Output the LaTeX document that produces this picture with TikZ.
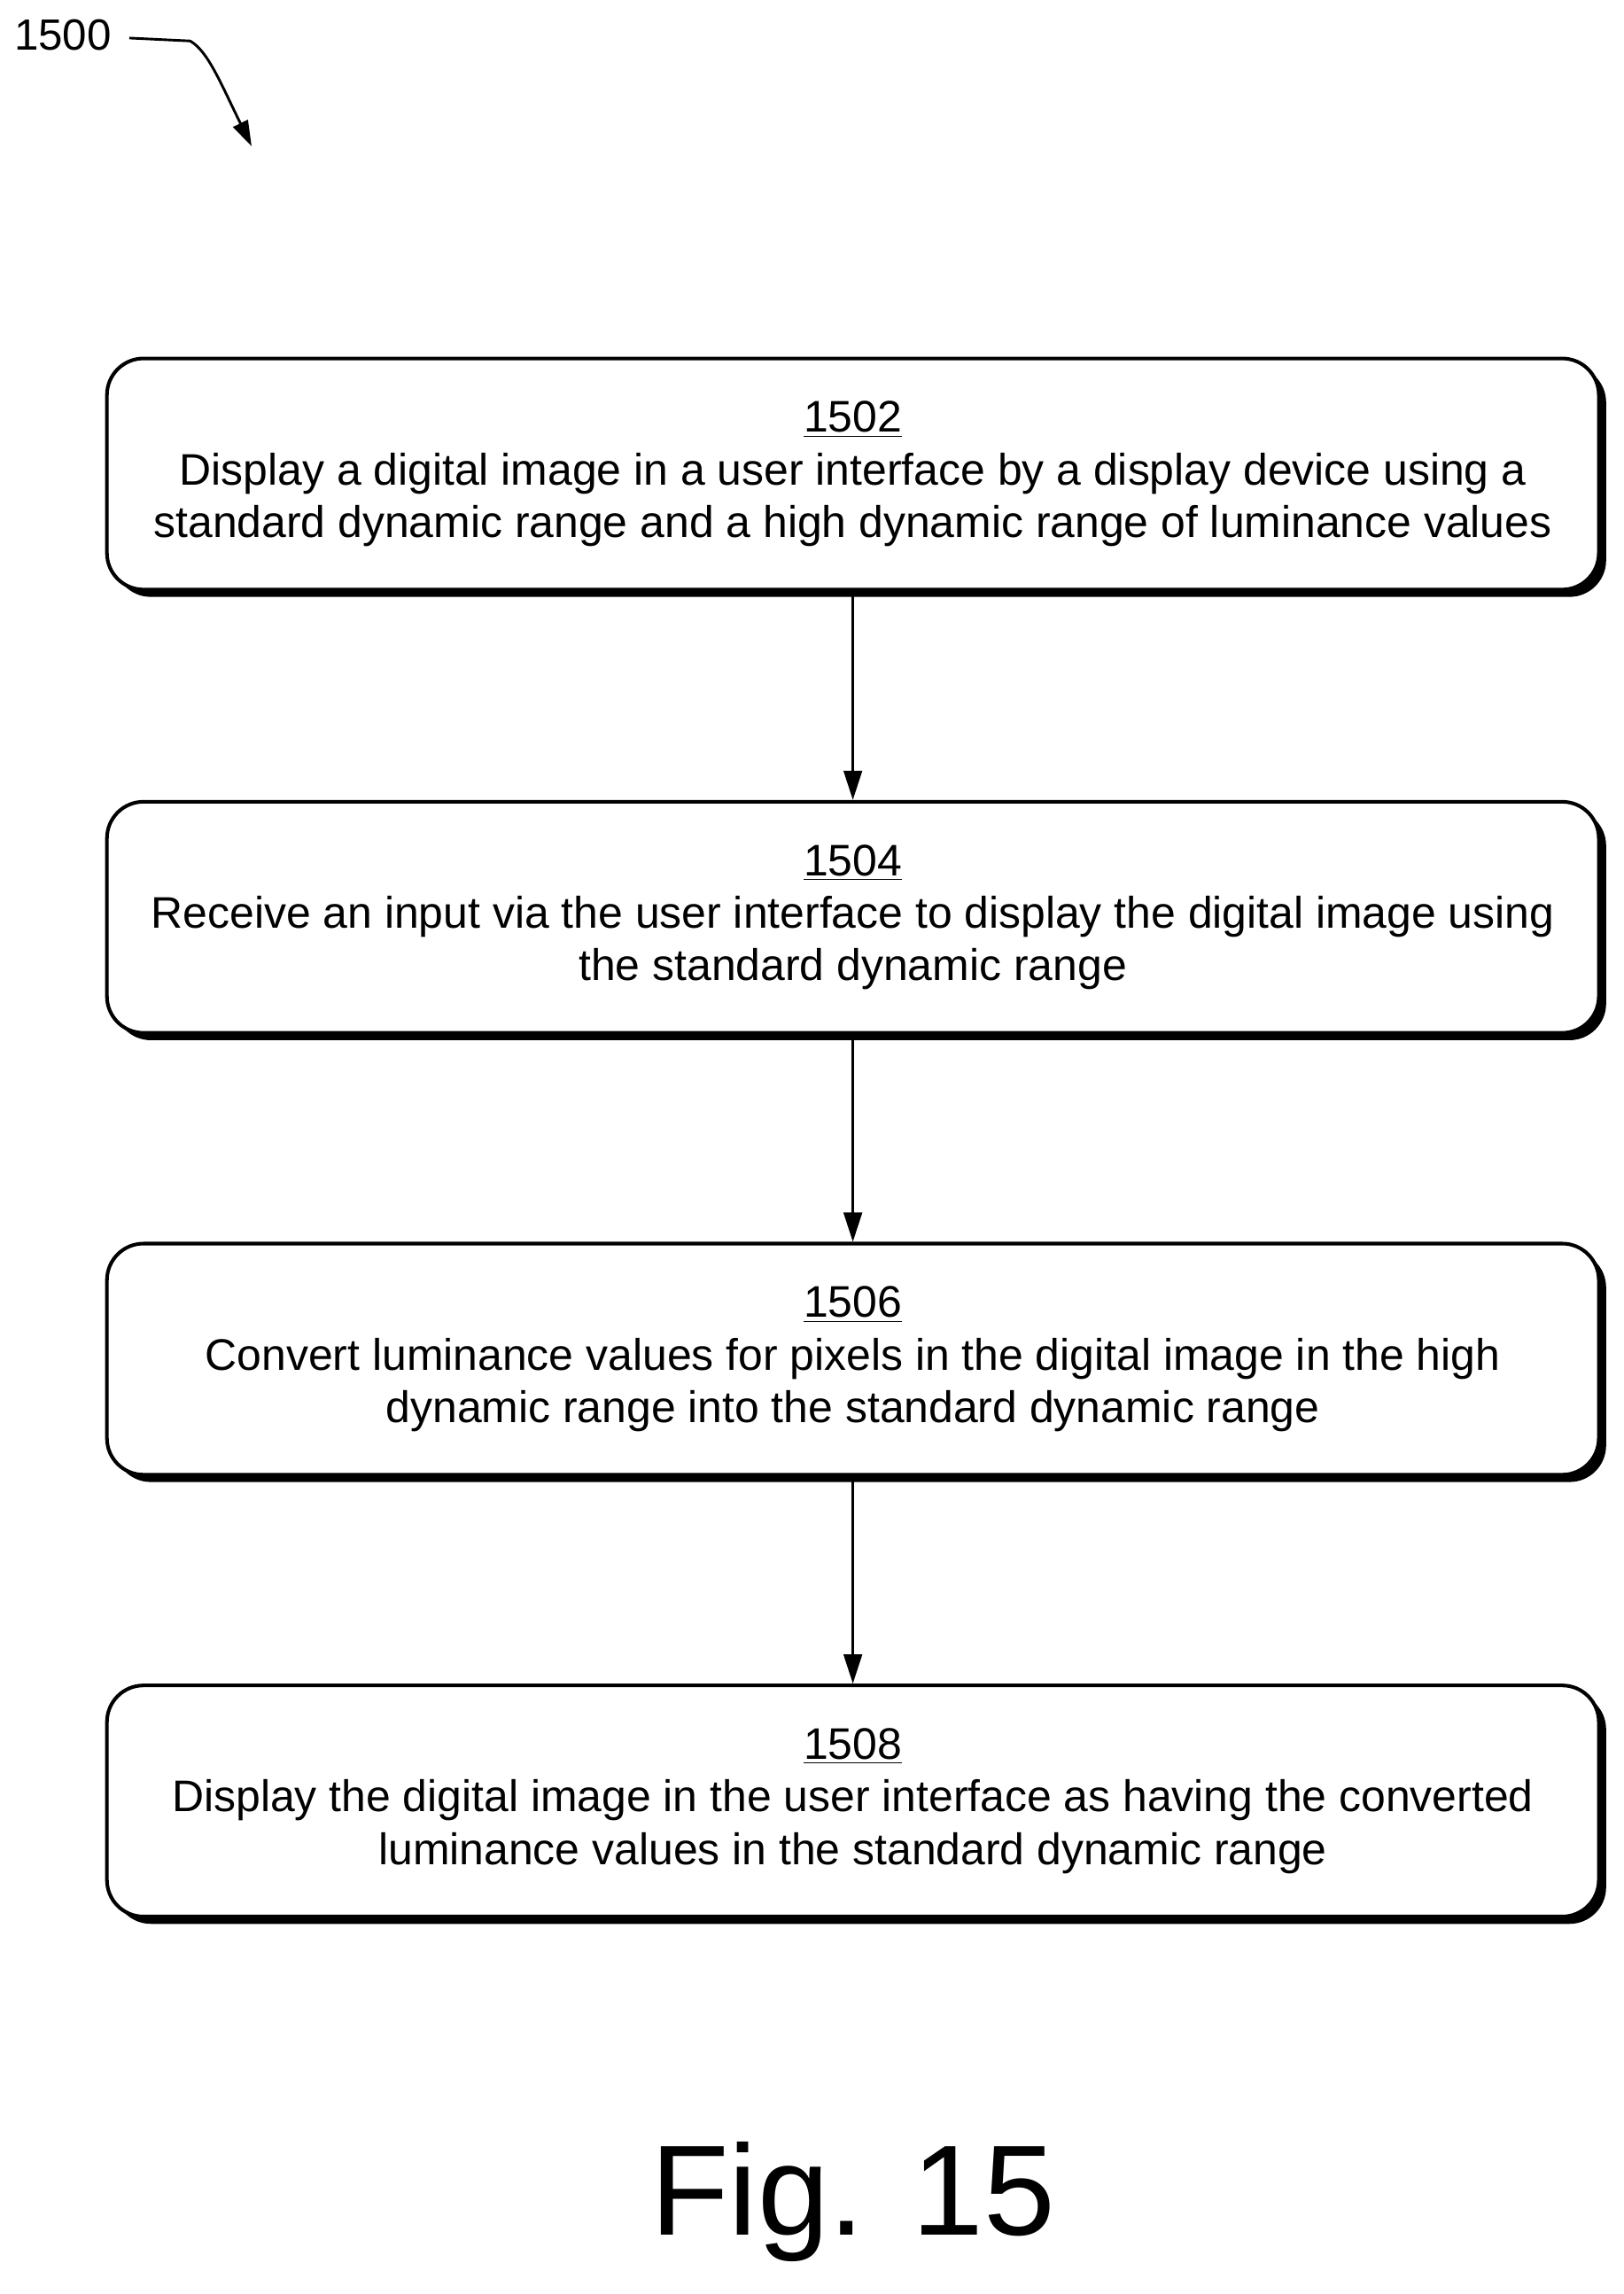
\documentclass[tikz,border=0pt]{standalone}
\usepackage{fontspec}
\setmainfont{Liberation Sans}
\usetikzlibrary{positioning,shadows,arrows.meta}
\tikzset{
  stepbox/.style={draw, line width=1.4pt, rounded corners=0.5cm, fill=white,
    minimum width=20.4cm, minimum height=3.16cm, align=center,
    font=\fontsize{17.2}{20.5}\selectfont,
    drop shadow={shadow xshift=0.1cm, shadow yshift=-0.1cm, fill=black, opacity=1}},
  flow/.style={-{Triangle[length=0.4cm,width=0.25cm]}, line width=1pt}
}
\begin{document}
\begin{tikzpicture}[x=0.02cm, y=-0.02cm]
  \useasboundingbox (0,0) rectangle (1110,1568);
  \node[font=\fontsize{17}{20}\selectfont] (fignum) at (43,24) {1500};
  \draw[-{Triangle[length=0.35cm,width=0.22cm]}, line width=1pt] (fignum.east) ++(6,2) -- (130,28) .. controls (142,35) and (150,55) .. (172,100);
  \node[stepbox] (s1) at (583,324) {\underline{1502}\\Display a digital image in a user interface by a display device using a\\standard dynamic range and a high dynamic range of luminance values};
  \node[stepbox] (s2) at (583,627) {\underline{1504}\\Receive an input via the user interface to display the digital image using\\the standard dynamic range};
  \node[stepbox] (s3) at (583,929) {\underline{1506}\\Convert luminance values for pixels in the digital image in the high\\dynamic range into the standard dynamic range};
  \node[stepbox] (s4) at (583,1231) {\underline{1508}\\Display the digital image in the user interface as having the converted\\luminance values in the standard dynamic range};
  \draw[flow] (s1) -- (s2);
  \draw[flow] (s2) -- (s3);
  \draw[flow] (s3) -- (s4);
  \node[font=\fontsize{50}{52}\selectfont] (cap) at (583,1505) {Fig. 15};
\end{tikzpicture}
\end{document}
